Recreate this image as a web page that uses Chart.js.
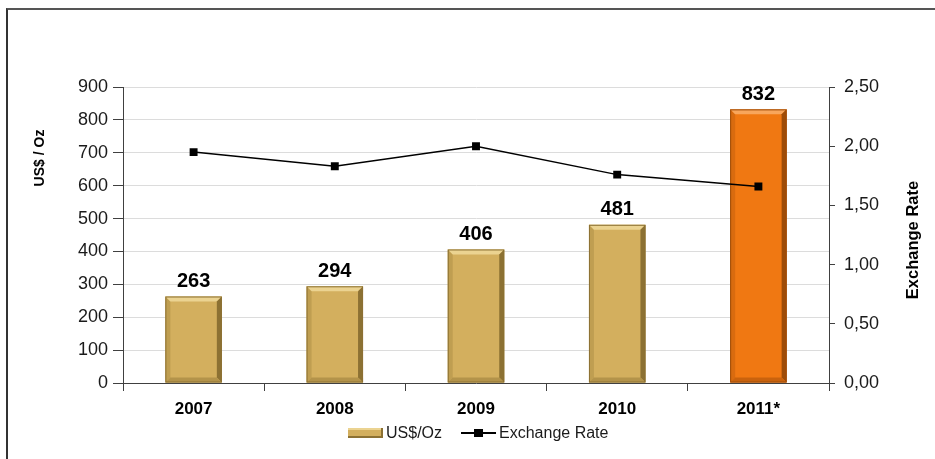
<!DOCTYPE html>
<html>
<head>
<meta charset="utf-8">
<script src="https://cdn.jsdelivr.net/npm/chart.js@4"></script>
<style>
  html, body { margin: 0; padding: 0; background: #fff; }
  #wrap { position: relative; width: 935px; height: 459px; overflow: hidden; }
  #frame { position: absolute; left: 6px; top: 8px; width: 1000px; height: 500px;
           border-left: 2px solid #333; border-top: 2px solid #555; box-sizing: border-box; }
  canvas { position: absolute; left: 0; top: 0; }
</style>
</head>
<body>
<div id="wrap">
  <div id="frame"></div>
  <canvas id="c" width="935" height="459"></canvas>
</div>
<script>
// ---- data ----
const years = ['2007', '2008', '2009', '2010', '2011*'];
const usdPerOz = [263, 294, 406, 481, 832];
const exchangeRate = [1.95, 1.83, 2.00, 1.76, 1.66];
const leftAxisMax = 900;
const leftAxisStep = 100;
const rightAxisMax = 2.5;
const rightAxisStep = 0.5;
const seriesNames = ['US$/Oz', 'Exchange Rate'];
const axisTitles = ['US$ / Oz', 'Exchange Rate'];

// ---- styles ----
const GOLD = { fill: '#D3AF5E', light: '#EBD391', dark: '#8C7133', mid: '#B3934A' };
const ORANGE = { fill: '#F07812', light: '#F8A65C', dark: '#9E4C08', mid: '#C9620D' };
const barPalette = years.map((y, i) => i === years.length - 1 ? ORANGE : GOLD);
const FONT = "'Liberation Sans', Arial, sans-serif";
const TXT = '#1a1a1a';

function drawRotated(ctx, text, x, y, font) {
  ctx.save();
  ctx.translate(x, y);
  ctx.rotate(-Math.PI / 2);
  ctx.font = font;
  ctx.fillStyle = '#000';
  ctx.textAlign = 'center';
  ctx.textBaseline = 'middle';
  ctx.fillText(text, 0, 0);
  ctx.restore();
}

const bevelPlugin = {
  id: 'bevel',
  afterDatasetDraw(chart, args) {
    if (args.index !== 0) return;
    const ctx = chart.ctx;
    const meta = chart.getDatasetMeta(0);
    meta.data.forEach((bar, i) => {
      const p = barPalette[i];
      const w = bar.width, l = bar.x - w / 2, r = bar.x + w / 2, t = bar.y, b = bar.base;
      const e = 5;
      ctx.save();
      ctx.fillStyle = p.mid; ctx.globalAlpha = 0.6;
      ctx.beginPath(); ctx.moveTo(l, t); ctx.lineTo(l + e, t + e); ctx.lineTo(l + e, b - e); ctx.lineTo(l, b); ctx.closePath(); ctx.fill();
      ctx.globalAlpha = 1;
      ctx.fillStyle = p.light;
      ctx.beginPath(); ctx.moveTo(l, t); ctx.lineTo(r, t); ctx.lineTo(r - e, t + e); ctx.lineTo(l + e, t + e); ctx.closePath(); ctx.fill();
      ctx.fillStyle = p.dark;
      ctx.beginPath(); ctx.moveTo(r, t); ctx.lineTo(r, b); ctx.lineTo(r - e, b - e); ctx.lineTo(r - e, t + e); ctx.closePath(); ctx.fill();
      ctx.fillStyle = p.mid;
      ctx.beginPath(); ctx.moveTo(l, b); ctx.lineTo(r, b); ctx.lineTo(r - e, b - e); ctx.lineTo(l + e, b - e); ctx.closePath(); ctx.fill();
      ctx.strokeStyle = p.dark; ctx.lineWidth = 1;
      ctx.strokeRect(l + 0.5, t + 0.5, w - 1, b - t - 1);
      ctx.restore();
    });
  },
  afterDatasetsDraw(chart) {
    const ctx = chart.ctx;
    const meta = chart.getDatasetMeta(0);
    ctx.save();
    ctx.font = "bold 20px " + FONT;
    ctx.fillStyle = '#000';
    ctx.textAlign = 'center';
    ctx.textBaseline = 'bottom';
    meta.data.forEach((bar, i) => {
      ctx.fillText(String(usdPerOz[i]), bar.x, bar.y - 5);
    });
    ctx.restore();
  },
  afterDraw(chart) {
    const ctx = chart.ctx;
    // axis titles
    drawRotated(ctx, axisTitles[0], 40, 158, "bold 14px " + FONT);
    drawRotated(ctx, axisTitles[1], 913, 240, "bold 16.5px " + FONT);
    // legend
    ctx.save();
    ctx.font = "16px " + FONT;
    const iconW = 35, gapIcon = 3, gapItems = 19;
    const w1 = ctx.measureText(seriesNames[0]).width;
    const w2 = ctx.measureText(seriesNames[1]).width;
    const total = iconW + gapIcon + w1 + gapItems + iconW + gapIcon + w2;
    const cx = (chart.chartArea.left + chart.chartArea.right) / 2 + 2;
    let x = Math.round(cx - total / 2);
    const cy = 433;
    ctx.fillStyle = GOLD.fill; ctx.fillRect(x, cy - 5, iconW, 10);
    ctx.fillStyle = GOLD.light; ctx.fillRect(x, cy - 5, iconW, 2);
    ctx.fillStyle = GOLD.dark; ctx.fillRect(x, cy + 3, iconW, 2); ctx.fillRect(x + iconW - 2, cy - 5, 2, 10);
    x += iconW + gapIcon;
    ctx.fillStyle = TXT; ctx.textBaseline = 'middle'; ctx.textAlign = 'left';
    ctx.fillText(seriesNames[0], x, cy + 1);
    x += w1 + gapItems;
    ctx.fillStyle = '#000';
    ctx.fillRect(x, cy - 1, iconW, 2);
    ctx.fillRect(x + 13, cy - 4, 9, 8);
    x += iconW + gapIcon;
    ctx.fillStyle = TXT;
    ctx.fillText(seriesNames[1], x, cy + 1);
    ctx.restore();
  }
};

new Chart(document.getElementById('c'), {
  data: {
    labels: years,
    datasets: [
      {
        type: 'bar',
        label: seriesNames[0],
        data: usdPerOz,
        yAxisID: 'y',
        backgroundColor: barPalette.map(p => p.fill),
        borderWidth: 0,
        categoryPercentage: 1,
        barPercentage: 0.4,
        order: 2
      },
      {
        type: 'line',
        label: seriesNames[1],
        data: exchangeRate,
        yAxisID: 'y2',
        borderColor: '#000',
        borderWidth: 1.5,
        backgroundColor: '#000',
        pointStyle: 'rect',
        pointRadius: 5.6,
        pointBorderWidth: 0,
        tension: 0,
        order: 1
      }
    ]
  },
  options: {
    responsive: false,
    animation: false,
    devicePixelRatio: 1,
    layout: { padding: { left: 30, right: 8, top: 87, bottom: 36 } },
    plugins: {
      tooltip: { enabled: false },
      legend: { display: false }
    },
    scales: {
      x: {
        offset: true,
        grid: { offset: true, drawOnChartArea: false, tickLength: 8, color: '#404040', tickColor: '#404040' },
        border: { color: '#404040', width: 1 },
        ticks: { color: '#000', font: { family: FONT, size: 17, weight: 'bold' }, padding: 8 },
        afterFit(s) { s.height = 40; }
      },
      y: {
        position: 'left',
        min: 0, max: leftAxisMax,
        ticks: { stepSize: leftAxisStep, color: TXT, font: { family: FONT, size: 18 }, padding: 5 },
        grid: { color: '#dcdcdc', tickColor: '#404040', tickLength: 10, lineWidth: 1 },
        border: { color: '#404040', width: 1 },
        title: { display: false },
        afterFit(s) { s.width = 93; }
      },
      y2: {
        position: 'right',
        min: 0, max: rightAxisMax,
        ticks: {
          stepSize: rightAxisStep, color: TXT, font: { family: FONT, size: 18 }, padding: 9,
          callback: v => Number(v).toFixed(2).replace('.', ',')
        },
        grid: { drawOnChartArea: false, tickColor: '#404040', tickLength: 6 },
        border: { color: '#404040', width: 1 },
        title: { display: false },
        afterFit(s) { s.width = 98; }
      }
    }
  },
  plugins: [bevelPlugin]
});
</script>
</body>
</html>
